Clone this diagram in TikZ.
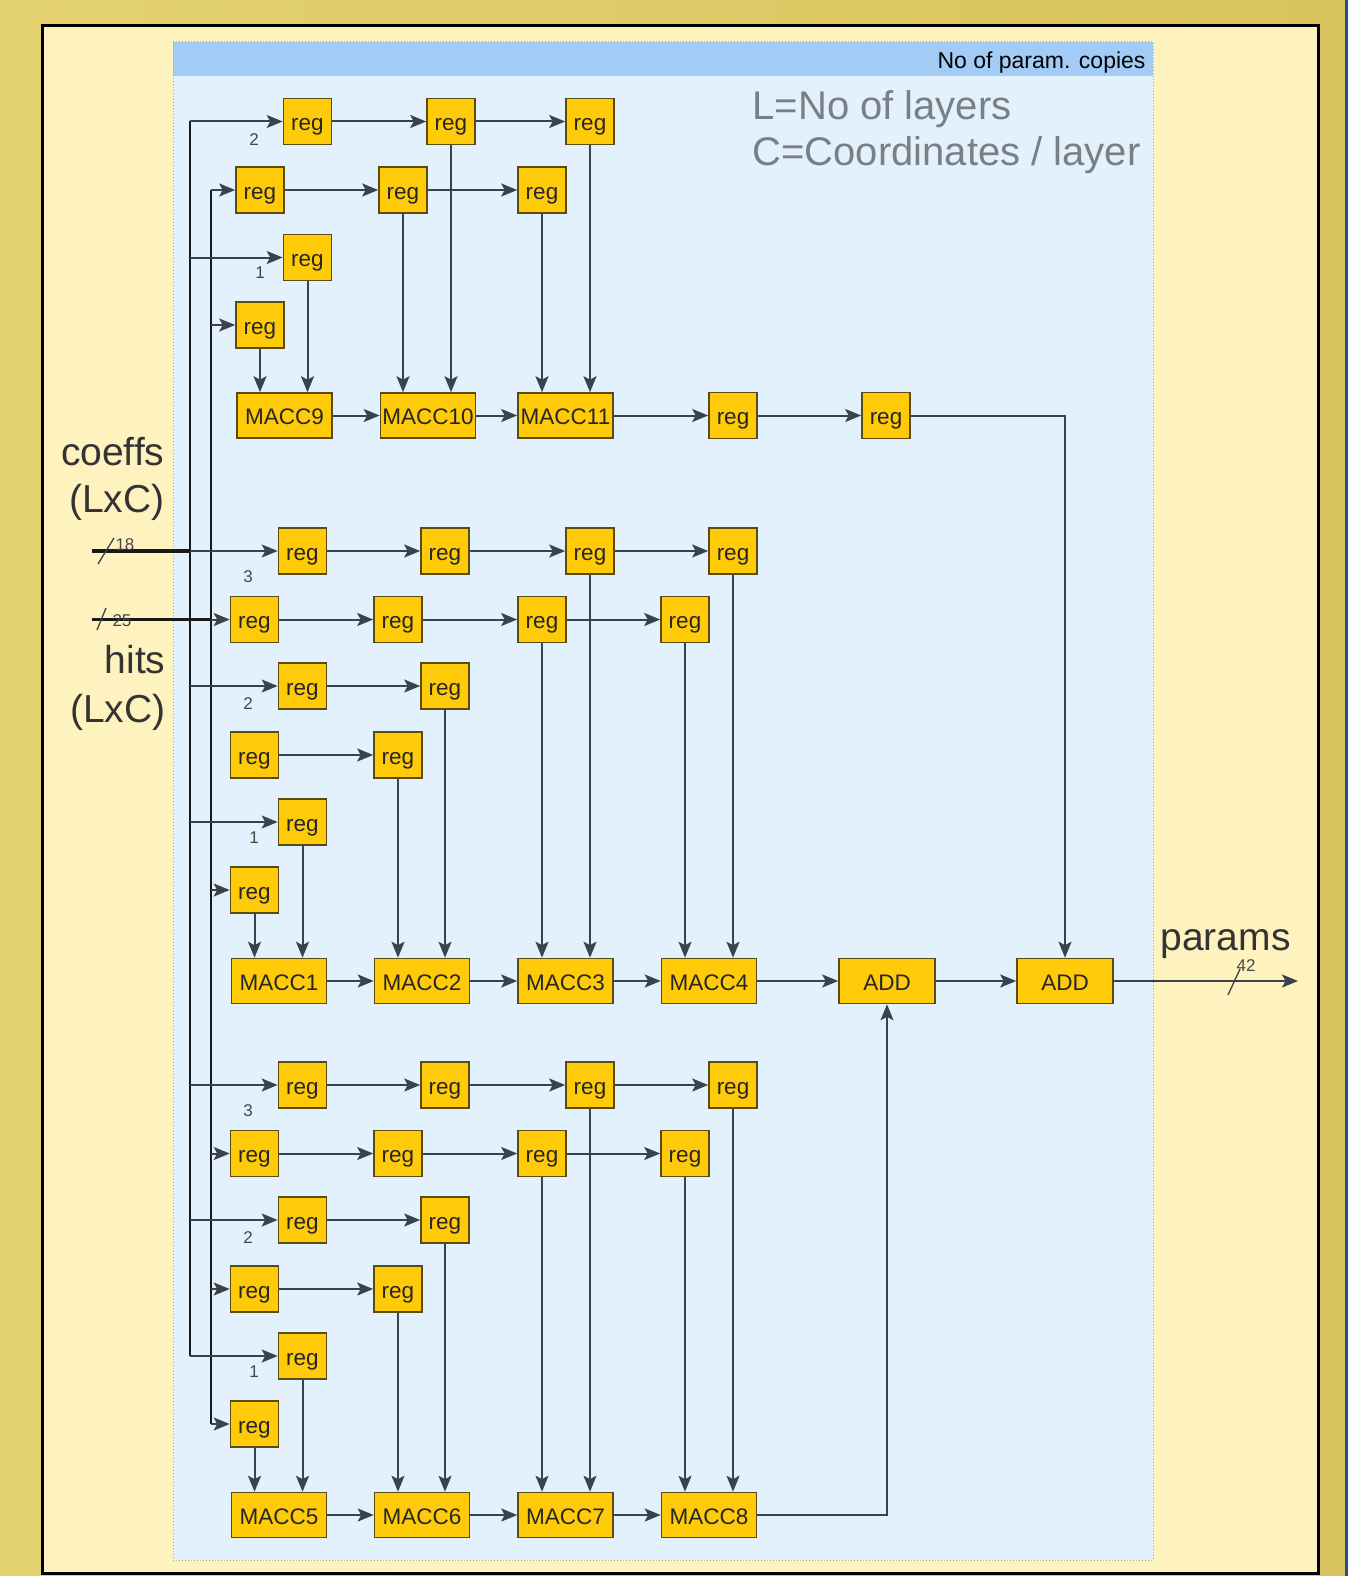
\documentclass[tikz,border=0pt]{standalone}
\usepackage{fontspec}
\setmainfont{Liberation Sans}
\usetikzlibrary{arrows.meta}
\definecolor{gold}{HTML}{D8C35C}
\definecolor{goldL}{HTML}{E4D170}
\definecolor{paper}{HTML}{FEF2BF}
\definecolor{panel}{HTML}{E2F1FC}
\definecolor{header}{HTML}{A2CCF6}
\definecolor{boxfill}{HTML}{FFCA08}
\definecolor{boxline}{HTML}{5B4A14}
\definecolor{wirec}{HTML}{3A424C}
\definecolor{note}{HTML}{7A7F86}
\definecolor{edgeblue}{HTML}{1F4E9A}
\begin{document}
\begin{tikzpicture}[x=1pt,y=-1pt,
 regbox/.style={draw=boxline,fill=boxfill,line width=1.6pt,minimum width=48pt,minimum height=46pt,inner sep=0pt,text height=18.5pt,text depth=0pt,font=\fontsize{22.5}{24}\selectfont,text=black!85},
 maccbox/.style={regbox,minimum width=95pt,minimum height=45pt},
 wire/.style={draw=wirec,line width=2pt},
 arr/.style={wire,-{Stealth[length=16pt,width=13pt,inset=3.5pt]}},
 bus/.style={draw=black!90,line width=2.4pt},
 thickbus/.style={draw=black!90,line width=3.2pt},
 lab/.style={font=\fontsize{17}{18}\selectfont,text=black!72},
 big/.style={font=\fontsize{39}{40}\selectfont,text=black!80}]
\useasboundingbox (0,0) rectangle (1348,1576);
% background
\shade[left color=goldL,right color=gold] (0,0) rectangle (1348,1576);
\fill[edgeblue] (1345,0) rectangle (1348,1576);
\draw[line width=3pt,fill=paper] (42,26) rectangle (1318,1573);
\fill[panel] (173,42) rectangle (1153,1560);
\fill[header] (173,42) rectangle (1153,76);
\draw[black!35,dotted,line width=1pt] (173,42) rectangle (1153,1560);
\node[anchor=base east,font=\fontsize{23}{26}\selectfont] (hdr) at (1149,69) {No of param. copies};
\node[anchor=base west,font=\fontsize{40}{42}\selectfont,text=note] (nl) at (749,120) {L=No of layers};
\node[anchor=base west,font=\fontsize{40}{42}\selectfont,text=note] (nc) at (749,165) {C=Coordinates / layer};
% side labels
\node[big,anchor=base east] (tcoef) at (168,465) {coeffs};
\node[big,anchor=base east] (tcoef2) at (168,512) {(LxC)};
\node[big,anchor=base east] (thits) at (169,673) {hits};
\node[big,anchor=base east] (thits2) at (169,722) {(LxC)};
\node[big,anchor=base west] (tpar) at (1157,950) {params};

% bus coordinates
\coordinate (busC) at (190,0);
\coordinate (busH) at (211,0);

% ---------- top block ----------
\node[regbox] (ta1) at (307.5,121.5) {reg};
\node[regbox] (ta2) at (451,121.5) {reg};
\node[regbox] (ta3) at (590,121.5) {reg};
\node[regbox] (tb1) at (260,190) {reg};
\node[regbox] (tb2) at (403,190) {reg};
\node[regbox] (tb3) at (542,190) {reg};
\node[regbox] (tc1) at (307.5,257.5) {reg};
\node[regbox] (td1) at (260,325) {reg};
\node[maccbox] (m9) at (284.5,415.5) {MACC9};
\node[maccbox] (m10) at (428,415.5) {MACC10};
\node[maccbox] (m11) at (565.5,415.5) {MACC11};
\node[regbox] (tr1) at (733,415.5) {reg};
\node[regbox] (tr2) at (886,415.5) {reg};
\node[lab] (l2t) at (254,140) {2};
\node[lab] (l1t) at (260,273) {1};

% ---------- middle / bottom blocks ----------
\foreach \pf/\dy/\ma/\mb/\mc/\md in {M/0/1/2/3/4,B/534/5/6/7/8}{
  \node[regbox] (\pf a1) at (302.5,551+\dy) {reg};
  \node[regbox] (\pf a2) at (445,551+\dy) {reg};
  \node[regbox] (\pf a3) at (590,551+\dy) {reg};
  \node[regbox] (\pf a4) at (733,551+\dy) {reg};
  \node[regbox] (\pf b1) at (254.5,619.5+\dy) {reg};
  \node[regbox] (\pf b2) at (398,619.5+\dy) {reg};
  \node[regbox] (\pf b3) at (542,619.5+\dy) {reg};
  \node[regbox] (\pf b4) at (685,619.5+\dy) {reg};
  \node[regbox] (\pf c1) at (302.5,686+\dy) {reg};
  \node[regbox] (\pf c2) at (445,686+\dy) {reg};
  \node[regbox] (\pf d1) at (254.5,755+\dy) {reg};
  \node[regbox] (\pf d2) at (398,755+\dy) {reg};
  \node[regbox] (\pf e1) at (302.5,822+\dy) {reg};
  \node[regbox] (\pf f1) at (254.5,890+\dy) {reg};
  \node[maccbox] (\pf m1) at (279,981+\dy) {MACC\ma};
  \node[maccbox] (\pf m2) at (422,981+\dy) {MACC\mb};
  \node[maccbox] (\pf m3) at (565.5,981+\dy) {MACC\mc};
  \node[maccbox] (\pf m4) at (709,981+\dy) {MACC\md};
  \node[lab] (\pf l3) at (248,577+\dy) {3};
  \node[lab] (\pf l2) at (248,704+\dy) {2};
  \node[lab] (\pf l1) at (254,838+\dy) {1};
  \draw[arr] (\pf a1) -- (\pf a2);
  \draw[arr] (\pf a2) -- (\pf a3);
  \draw[arr] (\pf a3) -- (\pf a4);
  \draw[arr] (\pf b1) -- (\pf b2);
  \draw[arr] (\pf b2) -- (\pf b3);
  \draw[arr] (\pf b3) -- (\pf b4);
  \draw[arr] (\pf c1) -- (\pf c2);
  \draw[arr] (\pf d1) -- (\pf d2);
  \draw[arr] (\pf f1.south) -- (\pf f1.south |- \pf m1.north);
  \draw[arr] (\pf e1.south) -- (\pf e1.south |- \pf m1.north);
  \draw[arr] (\pf d2.south) -- (\pf d2.south |- \pf m2.north);
  \draw[arr] (\pf c2.south) -- (\pf c2.south |- \pf m2.north);
  \draw[arr] (\pf b3.south) -- (\pf b3.south |- \pf m3.north);
  \draw[arr] (\pf a3.south) -- (\pf a3.south |- \pf m3.north);
  \draw[arr] (\pf b4.south) -- (\pf b4.south |- \pf m4.north);
  \draw[arr] (\pf a4.south) -- (\pf a4.south |- \pf m4.north);
  \draw[arr] (\pf m1) -- (\pf m2);
  \draw[arr] (\pf m2) -- (\pf m3);
  \draw[arr] (\pf m3) -- (\pf m4);
}
\node[maccbox,minimum width=96pt] (add1) at (887,981) {ADD};
\node[maccbox,minimum width=96pt] (add2) at (1065,981) {ADD};

% top block connectors
\draw[arr] (ta1) -- (ta2);
\draw[arr] (ta2) -- (ta3);
\draw[arr] (tb1) -- (tb2);
\draw[arr] (tb2) -- (tb3);
\draw[arr] (td1.south) -- (td1.south |- m9.north);
\draw[arr] (tc1.south) -- (tc1.south |- m9.north);
\draw[arr] (tb2.south) -- (tb2.south |- m10.north);
\draw[arr] (ta2.south) -- (ta2.south |- m10.north);
\draw[arr] (tb3.south) -- (tb3.south |- m11.north);
\draw[arr] (ta3.south) -- (ta3.south |- m11.north);
\draw[arr] (m9) -- (m10);
\draw[arr] (m10) -- (m11);
\draw[arr] (m11) -- (tr1);
\draw[arr] (tr1) -- (tr2);
\draw[arr] (tr2.east) -| (add2.north);
\draw[arr] (Mm4) -- (add1);
\draw[arr] (add1) -- (add2);
\draw[arr] (Bm4.east) -| (add1.south);

% output
\coordinate (pout) at (1298,981);
\draw[arr] (add2.east) -- (pout);
\draw[wire,line width=1.3pt] (1228,995) -- (1240,969);
\node[lab] (n42) at (1246,966) {42};

% buses
\draw[bus] (busC |- ta1.west) -- (busC |- Be1.west);
\draw[bus] (busH |- tb1.west) -- (busH |- Bf1.west);
\coordinate (cin) at (92,551);
\coordinate (hin) at (92,619.5);
\draw[thickbus] (cin) -- (busC |- Ma1.west);
\draw[thickbus] (hin) -- (busH |- Mb1.west);
\draw[wire,line width=1.3pt] (98,564) -- (114,538);
\draw[wire,line width=1.3pt] (97,630) -- (106,608);
\node[lab] (n18) at (125,545) {18};
\node[lab] (n25) at (122,621) {25};

% branches from coefficient bus
\foreach \n in {ta1,tc1,Ma1,Mc1,Me1,Ba1,Bc1,Be1}{
  \draw[arr] (busC |- \n.west) -- (\n.west);
}
% branches from hits bus
\foreach \n in {tb1,td1,Mb1,Mf1,Bb1,Bd1,Bf1}{
  \draw[arr] (busH |- \n.west) -- (\n.west);
}
\end{tikzpicture}
\end{document}
